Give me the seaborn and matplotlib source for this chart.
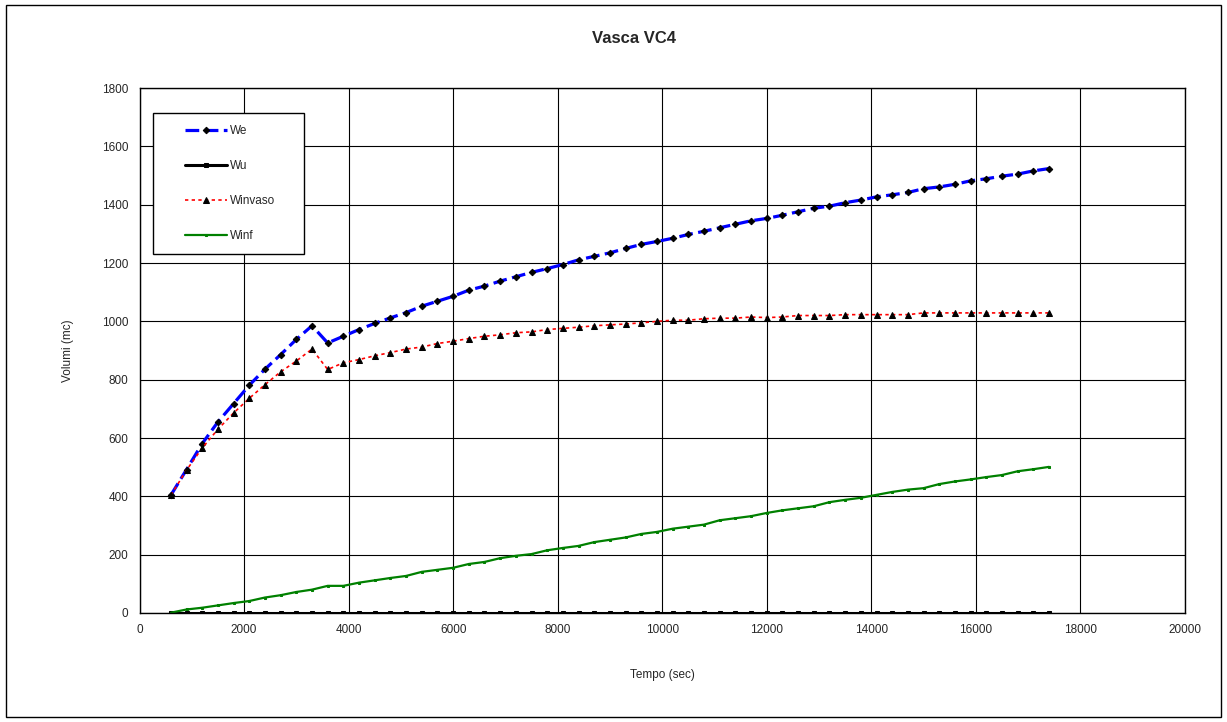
import matplotlib
matplotlib.use("Agg")
import matplotlib.pyplot as plt
import seaborn as sns
import pandas as pd
from matplotlib.patches import Rectangle

# time steps (sec)
tempo = [600, 900, 1200, 1500, 1800, 2100, 2400, 2700, 3000, 3300,
         3600, 3900, 4200, 4500, 4800, 5100, 5400, 5700, 6000, 6300,
         6600, 6900, 7200, 7500, 7800, 8100, 8400, 8700, 9000, 9300,
         9600, 9900, 10200, 10500, 10800, 11100, 11400, 11700, 12000, 12300,
         12600, 12900, 13200, 13500, 13800, 14100, 14400, 14700, 15000, 15300,
         15600, 15900, 16200, 16500, 16800, 17100, 17400]

we = [404, 492, 581, 655, 718, 781, 836, 886, 938, 985,
      926, 949, 972, 993, 1012, 1030, 1052, 1069, 1086, 1107,
      1121, 1138, 1153, 1168, 1181, 1195, 1211, 1223, 1235, 1250,
      1264, 1274, 1285, 1298, 1309, 1321, 1333, 1345, 1353, 1364,
      1376, 1388, 1395, 1407, 1416, 1427, 1434, 1442, 1455, 1461,
      1470, 1482, 1489, 1498, 1505, 1516, 1524]

wu = [0, 0, 0, 0, 0, 0, 0, 0, 0, 0,
      0, 0, 0, 0, 0, 0, 0, 0, 0, 0,
      0, 0, 0, 0, 0, 0, 0, 0, 0, 0,
      0, 0, 0, 0, 0, 0, 0, 0, 0, 0,
      0, 0, 0, 0, 0, 0, 0, 0, 0, 0,
      0, 0, 0, 0, 0, 0, 0]

winvaso = [404, 490, 566, 630, 686, 736, 783, 827, 864, 905,
           835, 858, 869, 882, 893, 905, 912, 924, 932, 941,
           949, 954, 961, 964, 972, 976, 980, 985, 988, 991,
           995, 1000, 1004, 1004, 1009, 1011, 1011, 1015, 1013, 1015,
           1020, 1020, 1020, 1023, 1023, 1023, 1023, 1023, 1029, 1029,
           1029, 1029, 1029, 1029, 1029, 1029, 1029]

winf = [1, 12, 18, 26, 34, 41, 53, 61, 72, 80,
        93, 93, 104, 112, 120, 127, 141, 148, 155, 168,
        175, 188, 196, 202, 215, 223, 230, 243, 251, 259,
        271, 278, 289, 296, 303, 318, 325, 332, 343, 352,
        359, 366, 380, 388, 395, 405, 415, 423, 428, 442,
        451, 458, 466, 473, 486, 493, 501]

df = pd.DataFrame({"Tempo": tempo, "We": we, "Wu": wu,
                   "Winvaso": winvaso, "Winf": winf})

sns.set_style("white")
plt.rcParams["font.family"] = ["Liberation Sans", "DejaVu Sans"]

W, H = 1227, 722
fig = plt.figure(figsize=(W / 100, H / 100), dpi=100)
ax = fig.add_axes([0.1137, 0.151, 0.852, 0.727])

# figure frame
fig.patches.append(Rectangle((0.005, 0.007), 0.99, 0.986, transform=fig.transFigure,
                             fill=False, edgecolor="black", linewidth=1))

sns.lineplot(data=df, x="Tempo", y="We", ax=ax, color="#0000ff", linewidth=2.3,
             linestyle=(0, (4.3, 1.7)), marker="D", markersize=3.3,
             markerfacecolor="black", markeredgecolor="black", label="We")
sns.lineplot(data=df, x="Tempo", y="Wu", ax=ax, color="black", linewidth=2.2,
             marker="s", markersize=3.2, markerfacecolor="black",
             markeredgecolor="black", label="Wu")
sns.lineplot(data=df, x="Tempo", y="Winvaso", ax=ax, color="#ff0000", linewidth=1.2,
             linestyle=(0, (2, 2)), marker="^", markersize=4.6,
             markerfacecolor="black", markeredgecolor="black", label="Winvaso")
sns.lineplot(data=df, x="Tempo", y="Winf", ax=ax, color="#008000", linewidth=1.6,
             marker="s", markersize=1.5, markerfacecolor="#008000",
             markeredgecolor="#008000", label="Winf")

ax.set_xlim(0, 20000)
ax.set_ylim(0, 1800)
ax.set_xticks(range(0, 20001, 2000))
ax.set_yticks(range(0, 1801, 200))
ax.grid(True, color="black", linewidth=0.8)
ax.set_axisbelow(True)
for s in ax.spines.values():
    s.set_color("black")
    s.set_linewidth(1)
ax.tick_params(axis="both", direction="out", length=4, width=0.8, color="black",
               labelsize=8.5, pad=4)

ax.set_xlabel("Tempo (sec)", fontsize=8.5, labelpad=24)
ax.set_ylabel("Volumi (mc)", fontsize=8.5, labelpad=20)
fig.text(0.517, 0.947, "Vasca VC4", ha="center", va="center",
         fontsize=12, fontweight="bold")

# legend box drawn separately so the inner padding matches the original
box = Rectangle((153 / W, 1 - 254 / H), 151 / W, 141 / H, transform=fig.transFigure,
                facecolor="white", edgecolor="black", linewidth=1, zorder=4)
ax.add_artist(box)
box.set_clip_on(False)
leg = ax.legend(loc="upper left", bbox_to_anchor=(185 / W, 1 - 125 / H),
                bbox_transform=fig.transFigure, fontsize=8.5, frameon=False,
                handlelength=3.55, handletextpad=0.3, labelspacing=1.95,
                borderpad=0, borderaxespad=0)
leg.set_zorder(5)

plt.savefig("out.png", dpi=100)
